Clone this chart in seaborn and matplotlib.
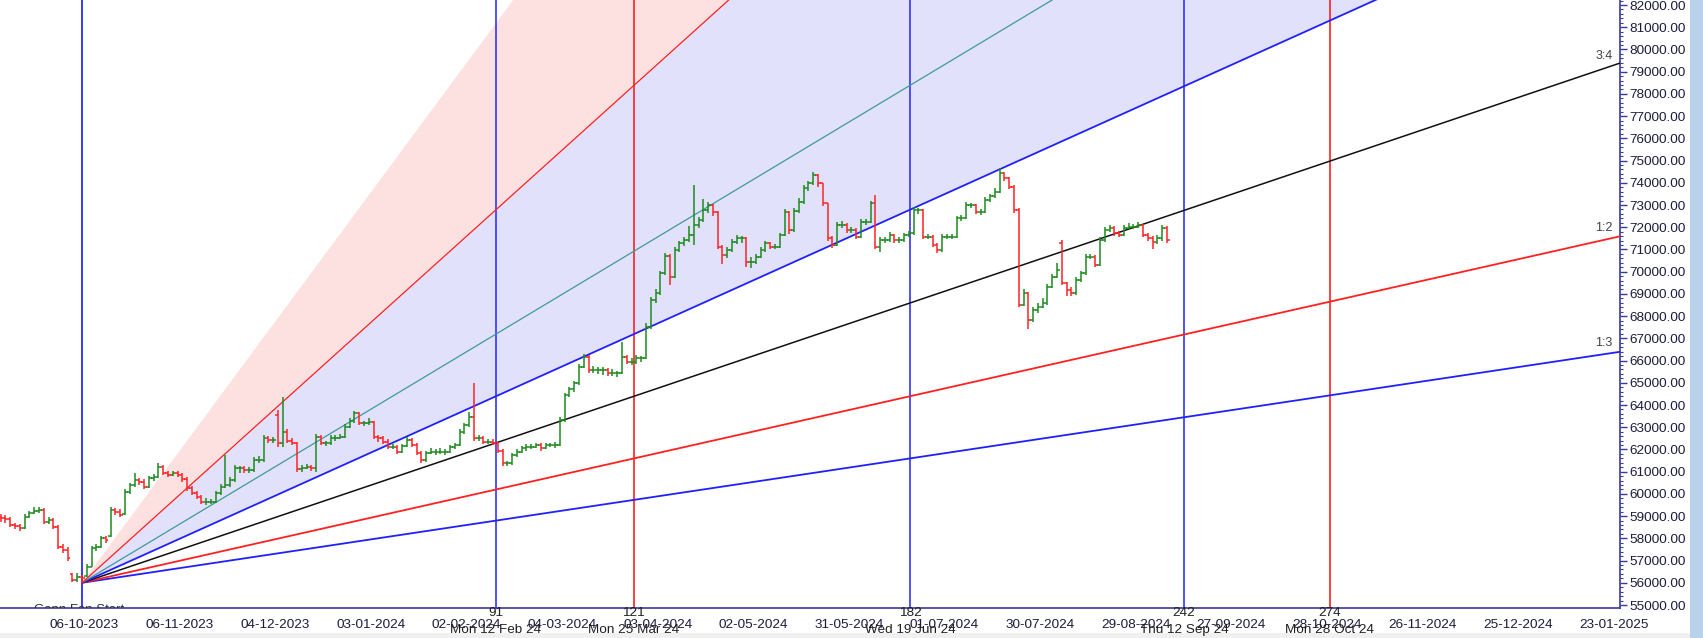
import numpy as np
import pandas as pd
import matplotlib
matplotlib.use("Agg")
import matplotlib.pyplot as plt
import matplotlib.transforms as mtransforms
from matplotlib.patches import Rectangle
from matplotlib.ticker import FixedLocator, MultipleLocator, FuncFormatter
import seaborn as sns

# ---------------- data ----------------
FIRST_BAR = -17  # bar index of the first OHLC bar (fan origin bar = 0)

opens = [58950, 58900, 58850, 58600, 58550, 58460, 58975, 59150, 59250, 59275,
         58750, 58825, 58525, 57625, 57475, 56400, 56125, 56275, 56300, 56725,
         57565, 57625, 58015, 58100, 59275, 59200, 59100, 60100, 60400, 60625,
         60550, 60325, 60700, 60775, 61225, 60940, 60850, 60940, 60850, 60665,
         60265, 60040, 59850, 59650, 59650, 59650, 60040, 60330, 60400, 60625,
         61160, 61160, 61075, 61075, 61525, 61525, 62515, 62425, 63550, 62290,
         62800, 62400, 62300, 61100, 61160, 61225, 61150, 62575, 62290, 62290,
         62515, 62515, 62575, 63025, 63300, 63640, 63190, 63190, 63250, 62575,
         62500, 62350, 62125, 62125, 61900, 62150, 62425, 62200, 61840, 61525,
         61840, 61900, 61900, 61900, 61900, 62100, 62200, 62800, 63100, 63475,
         62515, 62515, 62350, 62350, 62290, 61950, 61390, 61390, 61750, 61900,
         62050, 62125, 62125, 62200, 62050, 62200, 62200, 62200, 63325, 64450,
         64700, 64990, 65725, 66175, 65575, 65575, 65575, 65575, 65440, 65440,
         65440, 66175, 65950, 65950, 66100, 66100, 67500, 68725, 69025, 69925,
         70700, 69775, 70975, 71275, 71425, 71650, 72100, 72325, 72775, 73000,
         72700, 71125, 70750, 70975, 71350, 71500, 71500, 70450, 70450, 70675,
         70975, 71275, 71125, 71125, 71650, 72700, 71875, 72725, 73150, 73750,
         73975, 74350, 73975, 73075, 71500, 71200, 72100, 72100, 71875, 71875,
         71575, 72250, 72250, 73075, 71125, 71425, 71425, 71650, 71425, 71425,
         71650, 71725, 72775, 72775, 71575, 71575, 71200, 70975, 71575, 71575,
         71575, 72400, 72400, 73000, 73000, 72700, 72700, 73225, 73400, 73600,
         74425, 74200, 73825, 72775, 68500, 69025, 67825, 68275, 68425, 68575,
         69325, 69775, 71300, 69475, 69175, 69025, 69625, 69925, 70675, 70675,
         70300, 71425, 71875, 71950, 71725, 71650, 71950, 72025, 72025, 72100,
         71650, 71500, 71350, 71500, 71950]

highs = [59100, 59050, 58950, 58700, 58650, 59100, 59250, 59400, 59400, 59350,
         58950, 58900, 58600, 57750, 57600, 56450, 56450, 56350, 56850, 57650,
         57750, 58100, 58100, 59400, 59350, 59300, 60200, 60500, 60950, 60700,
         60650, 60800, 60900, 61400, 61300, 61050, 61050, 61050, 60950, 60750,
         60350, 60150, 59950, 59800, 59750, 60150, 60450, 61750, 60750, 61300,
         61250, 61250, 61200, 61650, 61700, 62650, 62600, 62550, 63775, 64375,
         62900, 62500, 62350, 61300, 61350, 61300, 62700, 62650, 62400, 62650,
         62650, 62700, 63150, 63400, 63750, 63700, 63300, 63400, 63300, 62650,
         62600, 62450, 62250, 62200, 62250, 62550, 62500, 62300, 61950, 61950,
         62050, 62000, 62050, 62000, 62200, 62300, 62900, 63200, 63700, 64990,
         62650, 62600, 62450, 62450, 62350, 62000, 61500, 61850, 62000, 62150,
         62250, 62250, 62300, 62300, 62300, 62300, 62350, 63450, 64550, 64800,
         65100, 65850, 66300, 66250, 65750, 65700, 65700, 65650, 65600, 65550,
         66850, 66250, 66100, 66250, 66200, 67700, 68850, 69200, 70050, 70850,
         70800, 71100, 71400, 71550, 72050, 73900, 72450, 73250, 73150, 73050,
         72750, 71200, 71100, 71450, 71650, 71600, 71550, 70650, 70800, 71100,
         71400, 71350, 71250, 71750, 72800, 72750, 72850, 73300, 73900, 74100,
         74500, 74400, 74000, 73100, 71600, 72250, 72300, 72200, 72000, 71950,
         72350, 72350, 73200, 73450, 71550, 71550, 71800, 71700, 71550, 71750,
         71850, 72900, 72850, 72800, 71700, 71650, 71300, 71700, 71700, 71700,
         72500, 72550, 73150, 73100, 73050, 72800, 73350, 73500, 73750, 74650,
         74500, 74250, 73900, 72850, 69200, 69100, 68400, 68600, 68800, 69450,
         69900, 70400, 71425, 69550, 69300, 69750, 70050, 70800, 70800, 70750,
         71550, 72000, 72100, 72050, 71850, 72100, 72200, 72150, 72250, 72150,
         71750, 71600, 71650, 72100, 72050]

lows = [58750, 58700, 58500, 58400, 58350, 58400, 58900, 59100, 59150, 58650,
        58650, 58400, 57500, 57350, 57000, 56050, 56050, 56000, 56250, 56700,
        57450, 57550, 57800, 58050, 59050, 58950, 59050, 60000, 60300, 60400,
        60200, 60250, 60600, 60700, 60850, 60750, 60800, 60750, 60550, 60150,
        59950, 59750, 59550, 59500, 59550, 59600, 59950, 60250, 60300, 60550,
        60950, 60950, 60950, 61000, 61400, 61450, 62300, 62300, 62125, 62125,
        62300, 62200, 61000, 61000, 61100, 61050, 61000, 62200, 62150, 62200,
        62400, 62450, 62500, 62950, 63200, 63100, 63050, 63100, 62450, 62350,
        62250, 62000, 62000, 61800, 61850, 62100, 62100, 61750, 61400, 61450,
        61800, 61750, 61800, 61750, 61850, 62000, 62150, 62700, 63000, 62400,
        62400, 62250, 62250, 62200, 61850, 61250, 61250, 61300, 61650, 61850,
        61950, 62000, 62050, 61950, 62000, 62100, 62050, 62150, 63250, 64350,
        64600, 64900, 65650, 65450, 65450, 65400, 65350, 65300, 65300, 65250,
        65400, 65850, 65800, 65850, 65950, 66050, 67400, 68600, 68950, 69850,
        69400, 69700, 70900, 71150, 71350, 71200, 71950, 72250, 72650, 72500,
        71000, 70350, 70600, 70900, 71250, 71300, 70200, 70150, 70350, 70600,
        70900, 71000, 71000, 71050, 71600, 71700, 71800, 72650, 73050, 73650,
        73900, 73800, 72950, 71400, 71050, 71150, 71950, 71750, 71750, 71450,
        71500, 72100, 72200, 71000, 70900, 71300, 71350, 71300, 71300, 71350,
        71550, 71650, 72600, 71450, 71450, 71100, 70850, 70900, 71450, 71450,
        71500, 72300, 72350, 72850, 72600, 72550, 72650, 73150, 73300, 73550,
        74100, 73700, 72650, 68400, 68450, 67400, 67750, 68150, 68350, 68500,
        69250, 69700, 69400, 68900, 68900, 68950, 69550, 69850, 70550, 70200,
        70250, 71350, 71800, 71600, 71550, 71600, 71900, 71900, 71950, 71550,
        71400, 71000, 71250, 71400, 71300]

closes = [58900, 58850, 58600, 58550, 58460, 58975, 59150, 59250, 59275, 58750,
          58825, 58525, 57625, 57475, 57115, 56125, 56275, 56200, 56725, 57565,
          57625, 58015, 57925, 59275, 59200, 59050, 60100, 60400, 60625, 60550,
          60325, 60700, 60775, 61225, 60940, 60850, 60940, 60850, 60665, 60265,
          60040, 59850, 59650, 59650, 59650, 60040, 60330, 60400, 60625, 61160,
          61160, 61075, 61075, 61525, 61525, 62515, 62425, 62425, 62290, 62800,
          62400, 62300, 61100, 61160, 61225, 61150, 62575, 62290, 62290, 62515,
          62515, 62575, 63025, 63300, 63640, 63190, 63190, 63250, 62575, 62500,
          62350, 62125, 62125, 61900, 62150, 62425, 62200, 61840, 61525, 61840,
          61900, 61900, 61900, 61900, 62100, 62200, 62800, 63100, 63475, 62515,
          62515, 62350, 62350, 62290, 61950, 61390, 61390, 61750, 61900, 62050,
          62125, 62125, 62200, 62050, 62200, 62200, 62200, 63325, 64450, 64700,
          64990, 65725, 66175, 65575, 65575, 65575, 65575, 65440, 65440, 65440,
          66175, 65950, 65950, 66100, 66100, 67500, 68725, 69025, 69925, 70700,
          69775, 70975, 71275, 71425, 71650, 72100, 72325, 72775, 73000, 72700,
          71125, 70750, 70975, 71350, 71500, 71500, 70450, 70450, 70675, 70975,
          71275, 71125, 71125, 71650, 72700, 71875, 72725, 73150, 73750, 73975,
          74350, 73975, 73075, 71500, 71200, 72100, 72100, 71875, 71875, 71575,
          72250, 72250, 73075, 71125, 71425, 71425, 71650, 71425, 71425, 71650,
          71725, 72775, 72775, 71575, 71575, 71200, 70975, 71575, 71575, 71575,
          72400, 72400, 73000, 73000, 72700, 72700, 73225, 73400, 73600, 74425,
          74200, 73825, 72775, 68500, 69025, 67825, 68275, 68425, 68575, 69325,
          69775, 70075, 69475, 69175, 69025, 69625, 69925, 70675, 70675, 70300,
          71425, 71875, 71950, 71725, 71650, 71950, 72025, 72025, 72100, 71650,
          71500, 71350, 71500, 71950, 71425]

date_labels = ["07-09-2023", "06-10-2023", "06-11-2023", "04-12-2023", "03-01-2024",
               "02-02-2024", "04-03-2024", "03-04-2024", "02-05-2024", "31-05-2024",
               "01-07-2024", "30-07-2024", "29-08-2024", "27-09-2024", "28-10-2024",
               "26-11-2024", "25-12-2024", "23-01-2025"]

cycle_numbers = [91, 121, 182, 242, 274]
cycle_bars = [86.6, 115.4, 173.3, 230.6, 261.1]
cycle_dates = ["Mon 12 Feb 24", "Mon 25 Mar 24", "Wed 19 Jun 24", "Thu 12 Sep 24", "Mon 28 Oct 24"]
cycle_colors = ["#3333ff", "#ff2020", "#3333ff", "#3333ff", "#ff2020"]

fan_origin_bar = 0.0
fan_origin_price = 56000
fan_unit = 96.9  # price per bar of the 1x1 line
fan_names = ["1:3", "1:2", "3:4", "1:1", "4:3", "2:1"]
fan_ratios = [1 / 3, 1 / 2, 3 / 4, 1.0, 4 / 3, 2.0]
fan_colors = ["#2020ff", "#ff2020", "#101010", "#2020ff", "#3f9a96", "#ff2020"]
fan_widths = [1.3, 1.3, 1.1, 1.3, 0.9, 0.9]
fan_labelled = ["1:3", "1:2", "3:4"]

# ---------------- style ----------------
sns.set_style("white")
plt.rcParams['font.family'] = ['Liberation Sans', 'DejaVu Sans']

W, H = 1703, 638
fig = plt.figure(figsize=(W / 100, H / 100), dpi=100)
fig.patch.set_facecolor('white')
ax = fig.add_axes([0, 30 / H, 1620 / W, 608 / H])
ax.set_facecolor('white')
XMIN, XMAX = -17.15, 321.8
ax.set_xlim(XMIN, XMAX)
ax.set_ylim(54865, 82225)

# fan shading
xs = np.linspace(fan_origin_bar, XMAX + 5, 300)
def fan_y(r):
    return fan_origin_price + fan_unit * r * (xs - fan_origin_bar)
ax.fill_between(xs, fan_y(2.0), fan_y(3.0), color='#fde1e1', lw=0, zorder=1)
ax.fill_between(xs, fan_y(1.0), fan_y(2.0), color='#e1e1fb', lw=0, zorder=1)

# fan lines (seaborn)
x_end = XMAX + 5
for name, r, col, lw in zip(fan_names, fan_ratios, fan_colors, fan_widths):
    df = pd.DataFrame({"bar": [fan_origin_bar, x_end],
                       "price": [fan_origin_price, fan_origin_price + fan_unit * r * (x_end - fan_origin_bar)]})
    sns.lineplot(data=df, x="bar", y="price", color=col, lw=lw, ax=ax, zorder=3)
    if name in fan_labelled:
        yend = fan_origin_price + fan_unit * r * (XMAX - 1.6 - fan_origin_bar)
        ax.text(XMAX - 1.6, yend + 430, name, ha='right', va='center', fontsize=9,
                color='#404040', zorder=6)

# vertical cycle lines
trans = mtransforms.blended_transform_factory(ax.transData, ax.transAxes)
ax.axvline(fan_origin_bar, color='#2a2aff', lw=1.3, zorder=2)
for n, b, d, col in zip(cycle_numbers, cycle_bars, cycle_dates, cycle_colors):
    ax.axvline(b, color=col, lw=1.2, zorder=2)
    ax.text(b, -5 / 608, str(n), transform=trans, ha='center', va='center', fontsize=9.7,
            color='#202020', clip_on=False, zorder=7)
    ax.text(b, -22 / 608, d, transform=trans, ha='center', va='center', fontsize=9.7,
            color='#202020', clip_on=False, zorder=7)

# OHLC bars
o = np.array(opens); h = np.array(highs); l = np.array(lows); c = np.array(closes)
xb = np.arange(FIRST_BAR, FIRST_BAR + len(c))
cols = np.where(c >= o, '#1e8a1e', '#ff2424')
ax.vlines(xb, l, h, colors=cols, lw=1.1, zorder=5)
ax.hlines(o, xb - 0.55, xb, colors=cols, lw=1.1, zorder=5)
ax.hlines(c, xb, xb + 0.55, colors=cols, lw=1.1, zorder=5)

# clipped start label at the bottom left
ax.text(-0.6, 54760, "Gann Fan Start", ha='center', va='center', fontsize=9.5,
        color='#303030', clip_on=True, zorder=6)

# spines
for s in ['left', 'top']:
    ax.spines[s].set_visible(False)
for s in ['right', 'bottom']:
    ax.spines[s].set_color('#3a3a9a')
    ax.spines[s].set_linewidth(1.2)

# y axis (right)
ax.yaxis.tick_right()
ax.yaxis.set_major_locator(MultipleLocator(1000))
ax.yaxis.set_minor_locator(MultipleLocator(200))
ax.yaxis.set_major_formatter(FuncFormatter(lambda v, p: f"{v:.2f}"))
ax.tick_params(axis='y', which='major', length=5, width=1, color='#3a3a9a',
               labelsize=9.7, labelcolor='#1c1c3c', pad=1.5)
ax.tick_params(axis='y', which='minor', length=2.5, width=0.8, color='#3a3a9a')
ax.set_ylabel("")

# x axis (dates every 20 bars)
tick_offset = 0.46
major_pos = [tick_offset + 20 * k for k in range(-1, len(date_labels) - 1)]
ax.xaxis.set_major_locator(FixedLocator(major_pos))
ax.set_xticklabels(date_labels)
ax.xaxis.set_minor_locator(FixedLocator(np.arange(tick_offset - 20, XMAX, 4)))
ax.tick_params(axis='x', which='major', length=4, width=1, color='#3a3a9a',
               labelsize=9.7, labelcolor='#1c1c3c', pad=4)
ax.tick_params(axis='x', which='minor', length=2.5, width=0.8, color='#3a3a9a')
ax.set_xlabel("")

# window decorations
fig.add_artist(Rectangle((1690 / W, 0), 13 / W, 1, transform=fig.transFigure,
                         facecolor='#b9d1ea', edgecolor='none', zorder=0))
fig.add_artist(Rectangle((0, 0), 1690 / W, 5 / H, transform=fig.transFigure,
                         facecolor='#f0f0f0', edgecolor='none', zorder=0))

fig.savefig("out.png", dpi=100)
